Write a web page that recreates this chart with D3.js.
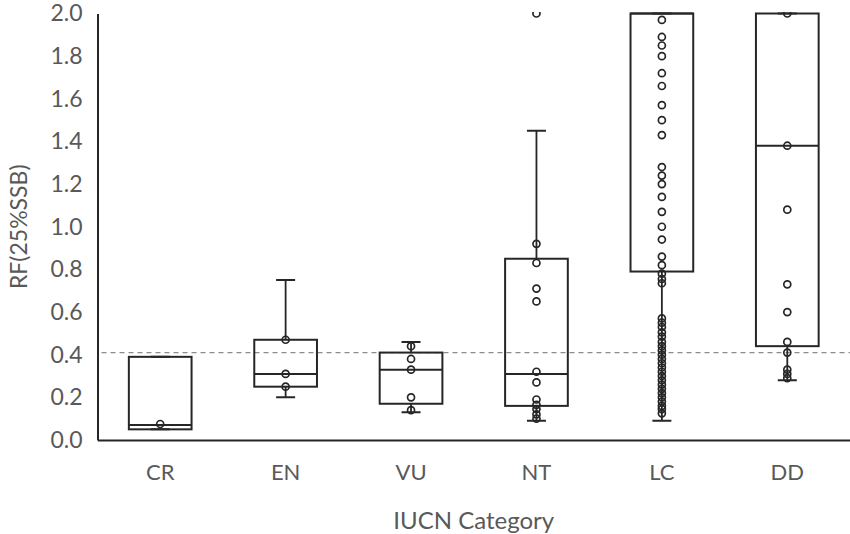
<!DOCTYPE html>
<html>
<head>
<meta charset="utf-8">
<script src="https://cdn.jsdelivr.net/npm/d3@7"></script>
<style>
  body { margin: 0; background: #fff; }
  text { font-family: Lato, "Open Sans", sans-serif; fill: #595959; }
</style>
</head>
<body>
<svg id="chart" width="850" height="534"></svg>
<script>
const categories = ['CR', 'EN', 'VU', 'NT', 'LC', 'DD'];
const whiskerLow = [0.05, 0.20, 0.13, 0.09, 0.09, 0.28];
const q1 = [0.05, 0.25, 0.17, 0.16, 0.79, 0.44];
const median = [0.07, 0.31, 0.33, 0.31, 2.0, 1.38];
const q3 = [0.39, 0.47, 0.41, 0.85, 2.0, 2.0];
const whiskerHigh = [0.39, 0.75, 0.46, 1.45, 2.0, 2.0];

const pointsCR = [0.075];
const pointsEN = [0.47, 0.31, 0.25];
const pointsVU = [0.44, 0.38, 0.33, 0.20, 0.14];
const pointsNT = [2.0, 0.92, 0.83, 0.71, 0.65, 0.32, 0.27, 0.19, 0.165, 0.145, 0.12, 0.10];
const pointsLC = [1.97, 1.89, 1.85, 1.80, 1.72, 1.66, 1.57, 1.50, 1.43, 1.28, 1.24, 1.20,
  1.14, 1.07, 1.00, 0.94, 0.86, 0.82, 0.78, 0.755, 0.735, 0.57, 0.55, 0.53, 0.505, 0.485,
  0.46, 0.44, 0.42, 0.40, 0.38, 0.36, 0.34, 0.32, 0.30, 0.28, 0.26, 0.24, 0.22, 0.20,
  0.18, 0.16, 0.145, 0.125];
const pointsDD = [2.0, 1.38, 1.08, 0.73, 0.60, 0.46, 0.41, 0.33, 0.31, 0.29];
const allPoints = [pointsCR, pointsEN, pointsVU, pointsNT, pointsLC, pointsDD];

const yTicks = [0, 0.2, 0.4, 0.6, 0.8, 1.0, 1.2, 1.4, 1.6, 1.8, 2.0];
const threshold = 0.41;

const margin = { left: 97.5, right: 0, top: 13.5, bottom: 94 };
const width = 850, height = 534;
const ink = '#262626';

const svg = d3.select('#chart');

const x = d3.scaleBand()
  .domain(categories)
  .range([margin.left, width - margin.right])
  .paddingInner(0)
  .paddingOuter(0);

const y = d3.scaleLinear()
  .domain([0, 2])
  .range([height - margin.bottom, margin.top]);

const boxW = x.bandwidth() * 0.5;
const capW = 19;

svg.append('clipPath')
  .attr('id', 'plot-clip')
  .append('rect')
  .attr('x', margin.left)
  .attr('y', y(2) - 1.5)
  .attr('width', width - margin.left)
  .attr('height', y(0) - y(2) + 10);

// threshold line
svg.append('line')
  .attr('x1', margin.left + 4)
  .attr('x2', width)
  .attr('y1', y(threshold))
  .attr('y2', y(threshold))
  .attr('stroke', '#8c8c8c')
  .attr('stroke-width', 1.2)
  .attr('stroke-dasharray', '5,4');

const plot = svg.append('g').attr('clip-path', 'url(#plot-clip)');

const boxes = plot.selectAll('.box')
  .data(categories)
  .enter()
  .append('g')
  .attr('class', 'box')
  .attr('transform', d => `translate(${x(d) + x.bandwidth() / 2}, 0)`);

// whiskers
boxes.append('line')
  .attr('x1', 0).attr('x2', 0)
  .attr('y1', (d, i) => y(whiskerHigh[i]))
  .attr('y2', (d, i) => y(q3[i]))
  .attr('stroke', ink).attr('stroke-width', 1.8);
boxes.append('line')
  .attr('x1', 0).attr('x2', 0)
  .attr('y1', (d, i) => y(q1[i]))
  .attr('y2', (d, i) => y(whiskerLow[i]))
  .attr('stroke', ink).attr('stroke-width', 1.8);
boxes.append('line')
  .attr('x1', -capW / 2).attr('x2', capW / 2)
  .attr('y1', (d, i) => y(whiskerHigh[i]))
  .attr('y2', (d, i) => y(whiskerHigh[i]))
  .attr('stroke', ink).attr('stroke-width', 2);
boxes.append('line')
  .attr('x1', -capW / 2).attr('x2', capW / 2)
  .attr('y1', (d, i) => y(whiskerLow[i]))
  .attr('y2', (d, i) => y(whiskerLow[i]))
  .attr('stroke', ink).attr('stroke-width', 2);

// box + median
boxes.append('rect')
  .attr('x', -boxW / 2)
  .attr('width', boxW)
  .attr('y', (d, i) => y(q3[i]))
  .attr('height', (d, i) => y(q1[i]) - y(q3[i]))
  .attr('fill', 'none')
  .attr('stroke', ink)
  .attr('stroke-width', 2);
boxes.append('line')
  .attr('x1', -boxW / 2).attr('x2', boxW / 2)
  .attr('y1', (d, i) => y(median[i]))
  .attr('y2', (d, i) => y(median[i]))
  .attr('stroke', ink).attr('stroke-width', 2);

// inner points
boxes.selectAll('circle')
  .data((d, i) => allPoints[i])
  .enter()
  .append('circle')
  .attr('cx', 0)
  .attr('cy', d => y(d))
  .attr('r', 3.5)
  .attr('fill', 'none')
  .attr('stroke', ink)
  .attr('stroke-width', 1.7);

// axes
const yAxis = d3.axisLeft(y).tickValues(yTicks).tickFormat(d3.format('.1f')).tickSize(0).tickPadding(15);
svg.append('g')
  .attr('class', 'y axis')
  .attr('transform', `translate(${margin.left}, 0)`)
  .call(yAxis)
  .call(g => g.select('.domain').attr('stroke', ink).attr('stroke-width', 2))
  .call(g => g.selectAll('text').style('font-size', '23px').attr('fill', '#595959'));

const xAxis = d3.axisBottom(x).tickSize(0).tickPadding(24);
svg.append('g')
  .attr('class', 'x axis')
  .attr('transform', `translate(0, ${y(0)})`)
  .call(xAxis)
  .call(g => g.select('.domain').attr('stroke', ink).attr('stroke-width', 2))
  .call(g => g.selectAll('text').style('font-size', '22px').attr('fill', '#595959'));

svg.append('text')
  .attr('transform', `translate(27, ${(y(0) + y(2)) / 2}) rotate(-90)`)
  .attr('text-anchor', 'middle')
  .style('font-size', '23px')
  .text('RF(25%SSB)');

svg.append('text')
  .attr('x', (margin.left + width) / 2)
  .attr('y', 529)
  .attr('text-anchor', 'middle')
  .style('font-size', '24px')
  .text('IUCN Category');
</script>
</body>
</html>
